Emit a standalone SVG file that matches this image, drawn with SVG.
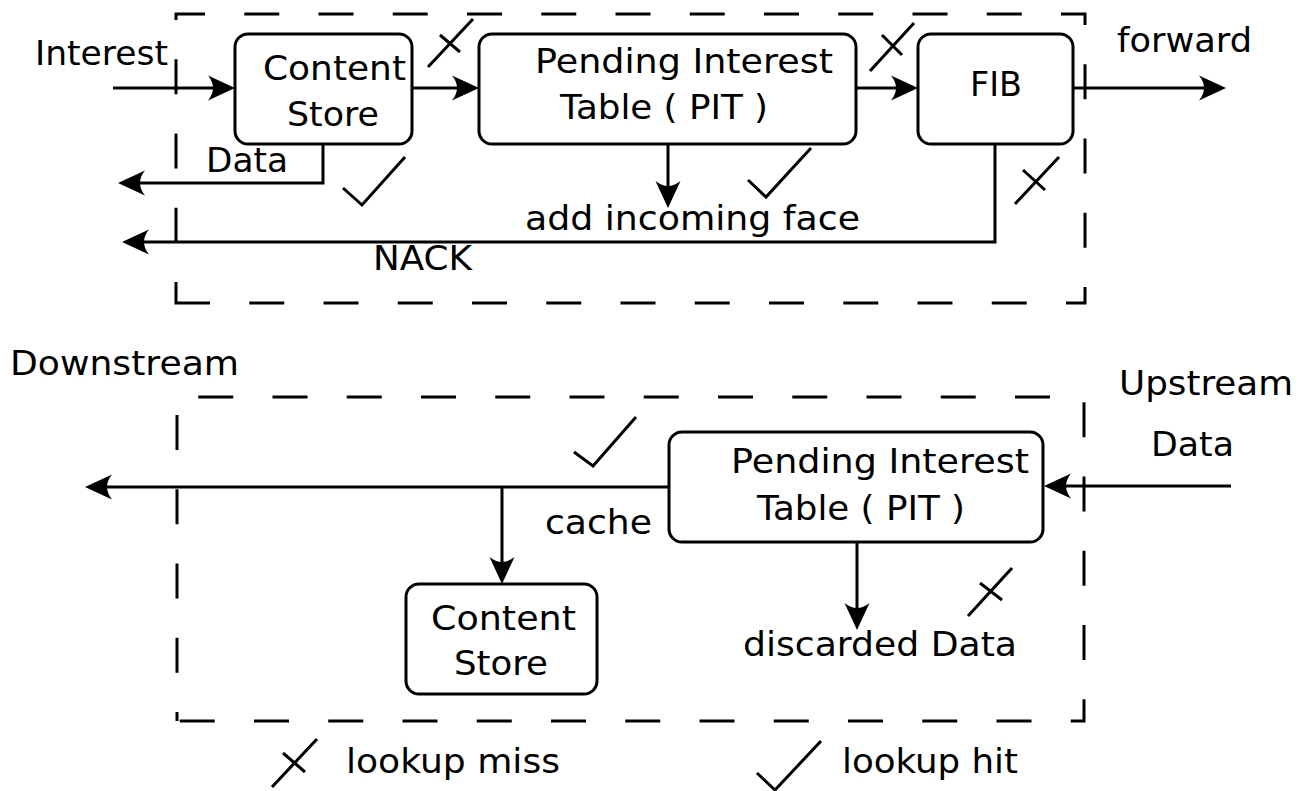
<svg xmlns="http://www.w3.org/2000/svg" width="1307" height="791" viewBox="0 0 1307 791">
<defs>
<style>
text{font-family:"DejaVu Sans","Liberation Sans",sans-serif;font-size:34px;fill:#000}
.m{text-anchor:middle}
.box{fill:#fff;stroke:#000;stroke-width:3}
.dash{fill:none;stroke:#000;stroke-width:3;stroke-dasharray:35 39.25}
.c{fill:none;stroke:#000;stroke-width:3}
.mk{fill:none;stroke:#000;stroke-width:3;stroke-linecap:butt;stroke-linejoin:miter}
</style>
<marker id="ah" markerUnits="userSpaceOnUse" orient="auto" refX="-6" refY="0" markerWidth="40" markerHeight="40" style="overflow:visible">
<path d="M0,0 L-27,-12.5 Q-17,0 -27,12.5 Z" fill="#000"/>
</marker>
</defs>
<rect width="1307" height="791" fill="#fff"/>

<g id="frames">
<path class="dash" d="M176,303 V14 H1085 V303 Z" stroke-dashoffset="14"/>
<path class="dash" d="M177,721 V397 H1084 V721 Z" stroke-dashoffset="26"/>
</g>

<g id="connectors">
<path class="c" d="M113,88 H229" marker-end="url(#ah)"/>
<path class="c" d="M412,88 H473" marker-end="url(#ah)"/>
<path class="c" d="M856,88 H912" marker-end="url(#ah)"/>
<path class="c" d="M1073,88 H1220" marker-end="url(#ah)"/>
<path class="c" d="M323,144 V183 H124" marker-end="url(#ah)"/>
<path class="c" d="M668,144 V202" marker-end="url(#ah)"/>
<path class="c" d="M995,144 V242 H128" marker-end="url(#ah)"/>
<path class="c" d="M1231,486 H1050" marker-end="url(#ah)"/>
<path class="c" d="M669,487 H91" marker-end="url(#ah)"/>
<path class="c" d="M502,487 V578" marker-end="url(#ah)"/>
<path class="c" d="M857,542 V624" marker-end="url(#ah)"/>
</g>

<g id="cs-top">
<rect class="box" x="235" y="34" width="177" height="110" rx="13"/>
<text class="m" x="334.5" y="80" textLength="143" lengthAdjust="spacingAndGlyphs">Content</text>
<text class="m" x="333" y="126" textLength="92" lengthAdjust="spacingAndGlyphs">Store</text>
</g>
<g id="pit-top">
<rect class="box" x="479" y="34" width="377" height="110" rx="13"/>
<text class="m" x="684" y="73" textLength="298" lengthAdjust="spacingAndGlyphs">Pending Interest</text>
<text class="m" x="664" y="119" textLength="208" lengthAdjust="spacingAndGlyphs">Table ( PIT )</text>
</g>
<g id="fib">
<rect class="box" x="918" y="34" width="155" height="110" rx="13"/>
<text class="m" x="996" y="96" textLength="52" lengthAdjust="spacingAndGlyphs">FIB</text>
</g>
<g id="pit-bottom">
<rect class="box" x="669" y="432" width="374" height="110" rx="13"/>
<text class="m" x="880" y="473" textLength="298" lengthAdjust="spacingAndGlyphs">Pending Interest</text>
<text class="m" x="861" y="520" textLength="208" lengthAdjust="spacingAndGlyphs">Table ( PIT )</text>
</g>
<g id="cs-bottom">
<rect class="box" x="406" y="584" width="191" height="110" rx="13"/>
<text class="m" x="503.5" y="630" textLength="145" lengthAdjust="spacingAndGlyphs">Content</text>
<text class="m" x="501" y="675" textLength="94" lengthAdjust="spacingAndGlyphs">Store</text>
</g>

<g id="labels">
<text x="35" y="65" textLength="133" lengthAdjust="spacingAndGlyphs">Interest</text>
<text class="m" x="1184.5" y="52" textLength="135" lengthAdjust="spacingAndGlyphs">forward</text>
<text class="m" x="247" y="172" textLength="82" lengthAdjust="spacingAndGlyphs">Data</text>
<text class="m" x="692.5" y="230" textLength="335" lengthAdjust="spacingAndGlyphs">add incoming face</text>
<text class="m" x="422.5" y="270" textLength="99" lengthAdjust="spacingAndGlyphs">NACK</text>
<text class="m" x="124.5" y="375" textLength="229" lengthAdjust="spacingAndGlyphs">Downstream</text>
<text class="m" x="1206" y="395" textLength="174" lengthAdjust="spacingAndGlyphs">Upstream</text>
<text class="m" x="1192.5" y="456" textLength="83" lengthAdjust="spacingAndGlyphs">Data</text>
<text class="m" x="598.5" y="534" textLength="107" lengthAdjust="spacingAndGlyphs">cache</text>
<text class="m" x="880" y="656" textLength="274" lengthAdjust="spacingAndGlyphs">discarded Data</text>
<text class="m" x="453" y="773" textLength="214" lengthAdjust="spacingAndGlyphs">lookup miss</text>
<text class="m" x="930" y="773" textLength="176" lengthAdjust="spacingAndGlyphs">lookup hit</text>
</g>

<g id="marks">
<path class="mk" d="M428,67 L473,19 M440,35 L460,52"/>
<path class="mk" d="M870,71 L914,23 M882,35 L902,55"/>
<path class="mk" d="M1015,204 L1059,157 M1023,170 L1045,190"/>
<path class="mk" d="M343,188 L362,205 L405,157"/>
<path class="mk" d="M748,180 L766,197 L811,148"/>
<path class="mk" d="M574,452 L593,466 L636,417"/>
<path class="mk" d="M968,616 L1012,568 M980,583 L1002,600"/>
<path class="mk" d="M272,787 L317,739 M283,753 L305,772"/>
<path class="mk" d="M757,773 L775,790 L821,741"/>
</g>
</svg>
